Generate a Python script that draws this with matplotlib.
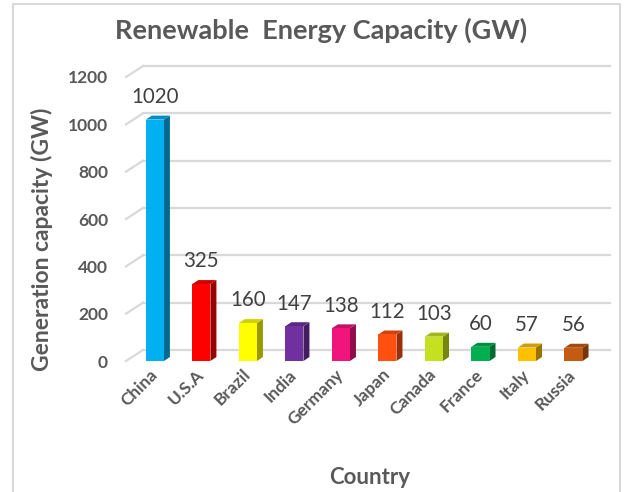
import numpy as np
import matplotlib
matplotlib.use('Agg')
import matplotlib.pyplot as plt
from matplotlib.patches import Polygon, Rectangle
from matplotlib.colors import to_rgb

# chart data
countries = ['China', 'U.S.A', 'Brazil', 'India', 'Germany', 'Japan', 'Canada', 'France', 'Italy', 'Russia']
capacity_gw = [1020, 325, 160, 147, 138, 112, 103, 60, 57, 56]
bar_colors = ['#00b0f0', '#ff0000', '#ffff00', '#7030a0', '#f0147c',
              '#ff5010', '#c5e01e', '#00b050', '#ffc000', '#c55a11']
y_ticks = [0, 200, 400, 600, 800, 1000, 1200]

plt.rcParams['font.family'] = ['Lato', 'DejaVu Sans']
text_gray = '#595959'
grid_gray = '#d9d9d9'

fig = plt.figure(figsize=(6.34, 4.92), dpi=100)
ax = fig.add_axes([126 / 634, 131 / 492, 467 / 634, 284 / 492])
xlim = (-0.62, 9.42)
ax.set_xlim(*xlim)
ax.set_ylim(0, 1200)
for s in ax.spines.values():
    s.set_visible(False)
ax.patch.set_visible(False)

# pixel -> data scale, used for the fake 3d depth
px_x = ax.bbox.width / (xlim[1] - xlim[0])
px_y = ax.bbox.height / 1200.0
wall_dx, wall_dy = 17 / px_x, 11 / px_y
bar_dx, bar_dy = 6 / px_x, 4 / px_y

# back wall gridlines + slanted side-wall ticks
for t in y_ticks:
    ax.plot([xlim[0] + wall_dx, xlim[1] + wall_dx], [t + wall_dy, t + wall_dy],
            color=grid_gray, lw=1.6, zorder=1, clip_on=False)
    ax.plot([xlim[0], xlim[0] + wall_dx], [t, t + wall_dy],
            color=grid_gray, lw=1.6, zorder=1, clip_on=False)

x = np.arange(len(countries))
w = 0.39
ax.bar(x, capacity_gw, width=w, color=bar_colors, zorder=3)

for xi, v, c in zip(x, capacity_gw, bar_colors):
    rgb = np.array(to_rgb(c))
    right = xi + w / 2
    left = xi - w / 2
    side = Polygon([(right, 0), (right + bar_dx, bar_dy), (right + bar_dx, v + bar_dy), (right, v)],
                   closed=True, facecolor=rgb * 0.6, edgecolor='none', zorder=2.5)
    top = Polygon([(left, v), (right, v), (right + bar_dx, v + bar_dy), (left + bar_dx, v + bar_dy)],
                  closed=True, facecolor=rgb * 0.82, edgecolor='none', zorder=2.5)
    ax.add_patch(side)
    ax.add_patch(top)
    ax.annotate(str(v), (xi, v), xytext=(0, 12), textcoords='offset points',
                ha='center', va='baseline', fontsize=14.8, color='#404040')

ax.set_yticks(y_ticks)
ax.set_yticklabels([str(t) for t in y_ticks], fontsize=12.5, fontweight='bold', color=text_gray)
ax.set_xticks(x)
ax.set_xticklabels(countries, rotation=45, ha='right', va='center', rotation_mode='anchor',
                   fontsize=12.5, fontweight='bold', color=text_gray)
ax.tick_params(axis='y', length=0, pad=13)
ax.tick_params(axis='x', length=0, pad=8)

fig.text(321 / 634, 1 - 30 / 492, 'Renewable  Energy Capacity (GW)', ha='center', va='center',
         fontsize=19.5, fontweight='bold', color=text_gray)
fig.text(42 / 634, 1 - 239 / 492, 'Generation capacity (GW)', ha='center', va='center',
         rotation=90, fontsize=16.5, fontweight='bold', color=text_gray)
fig.text(370 / 634, 1 - 478 / 492, 'Country', ha='center', va='center',
         fontsize=16, fontweight='bold', color=text_gray)

fig.patches.append(Rectangle((13 / 634, -0.1), 607 / 634, 1.1 - 4 / 492, transform=fig.transFigure,
                             fill=False, edgecolor=grid_gray, lw=1.5))

fig.savefig('out.png', dpi=100)
